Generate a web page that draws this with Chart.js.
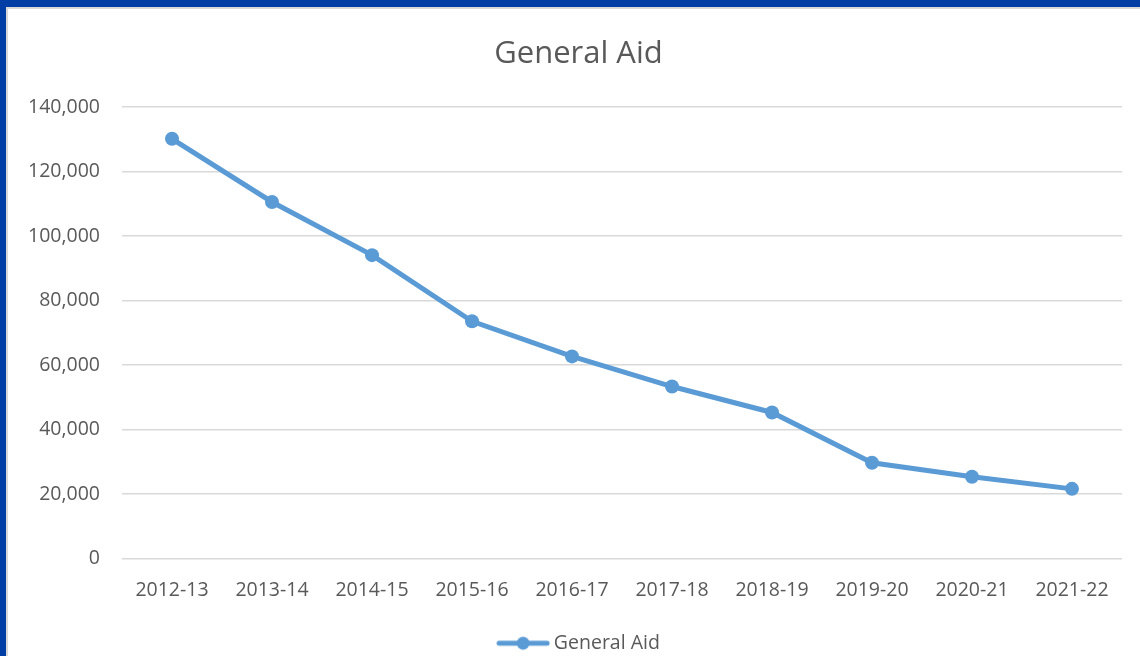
<!DOCTYPE html>
<html>
<head>
<meta charset="utf-8">
<script src="https://cdn.jsdelivr.net/npm/chart.js@4.4.1/dist/chart.umd.min.js"></script>
<style>
  html, body { margin: 0; padding: 0; background: #ffffff; }
  #frame { position: absolute; left: 0; top: 0; width: 1140px; height: 656px; overflow: hidden; background: #ffffff; }
  #blueTop { position: absolute; left: 0; top: 0; width: 1140px; height: 7px; background: #003DA5; }
  #blueLeft { position: absolute; left: 0; top: 0; width: 6px; height: 656px; background: #003DA5; }
  #greyTop { position: absolute; left: 6px; top: 7px; width: 1134px; height: 2px; background: #d9d9d9; }
  #greyLeft { position: absolute; left: 6px; top: 7px; width: 2px; height: 649px; background: #d9d9d9; }
  #wrap { position: absolute; left: 8px; top: 9px; width: 1132px; height: 647px; }
</style>
</head>
<body>
<div id="frame">
  <div id="wrap"><canvas id="c"></canvas></div>
  <div id="blueTop"></div>
  <div id="blueLeft"></div>
  <div id="greyTop"></div>
  <div id="greyLeft"></div>
</div>
<script>
const categories = ["2012-13", "2013-14", "2014-15", "2015-16", "2016-17", "2017-18", "2018-19", "2019-20", "2020-21", "2021-22"];
const generalAid = [130200, 110600, 94100, 73600, 62700, 53350, 45300, 29700, 25350, 21600];
const seriesName = "General Aid";
const chartTitle = "General Aid";
const yMin = 0;
const yMax = 140000;
const yStep = 20000;

const lineColor = "#5B9BD5";
const textColor = "#595959";
const fontFamily = "'Open Sans', Lato, sans-serif";

// legend marker: line with dot
const marker = document.createElement("canvas");
marker.width = 54; marker.height = 16;
(function () {
  const m = marker.getContext("2d");
  m.strokeStyle = lineColor; m.lineWidth = 5; m.lineCap = "round";
  m.beginPath(); m.moveTo(3, 8); m.lineTo(51, 8); m.stroke();
  m.fillStyle = lineColor;
  m.beginPath(); m.arc(27, 8, 6.5, 0, Math.PI * 2); m.fill();
})();

// shift title / legend horizontally to match the reference's centring
const shiftPlugin = {
  id: "shiftBlocks",
  afterLayout(chart) {
    if (chart.titleBlock) chart.titleBlock.left = 27;
    if (chart.legend) chart.legend.left = 32;
  }
};

const ctx = document.getElementById("c");
new Chart(ctx, {
  type: "line",
  plugins: [shiftPlugin],
  data: {
    labels: categories,
    datasets: [{
      label: seriesName,
      data: generalAid,
      borderColor: lineColor,
      backgroundColor: lineColor,
      borderWidth: 5,
      pointRadius: 7,
      pointHoverRadius: 7,
      pointBackgroundColor: lineColor,
      pointBorderWidth: 0,
      tension: 0,
      pointStyle: "circle"
    }]
  },
  options: {
    responsive: true,
    maintainAspectRatio: false,
    animation: false,
    layout: { padding: { left: 0, right: 18, top: 0, bottom: -7 } },
    plugins: {
      title: {
        display: true,
        text: chartTitle,
        color: textColor,
        font: { family: fontFamily, size: 31, weight: "normal" },
        padding: { top: 27, bottom: 34 }
      },
      legend: {
        position: "bottom",
        labels: {
          color: textColor,
          font: { family: fontFamily, size: 19.5 },
          usePointStyle: true,
          pointStyle: marker,
          pointStyleWidth: 42,
          padding: 0,
          generateLabels: function (chart) {
            return chart.data.datasets.map(function (ds, i) {
              return {
                text: ds.label,
                fontColor: textColor,
                pointStyle: marker,
                hidden: false,
                datasetIndex: i,
                lineWidth: 0
              };
            });
          }
        }
      },
      tooltip: { enabled: false }
    },
    scales: {
      x: {
        offset: true,
        grid: { display: false, drawTicks: false },
        border: { display: false },
        ticks: {
          color: textColor,
          font: { family: fontFamily, size: 19.5 },
          padding: 20,
          maxRotation: 0
        },
        afterFit: function (scale) { scale.height = 75; }
      },
      y: {
        min: yMin,
        max: yMax,
        grid: { color: "#d9d9d9", lineWidth: 1.5, drawTicks: false },
        border: { display: false },
        ticks: {
          stepSize: yStep,
          color: textColor,
          font: { family: fontFamily, size: 19.5 },
          padding: 22,
          callback: function (v) { return v.toLocaleString("en-US"); }
        },
        afterFit: function (scale) { scale.width = 114; }
      }
    }
  }
});
</script>
</body>
</html>
